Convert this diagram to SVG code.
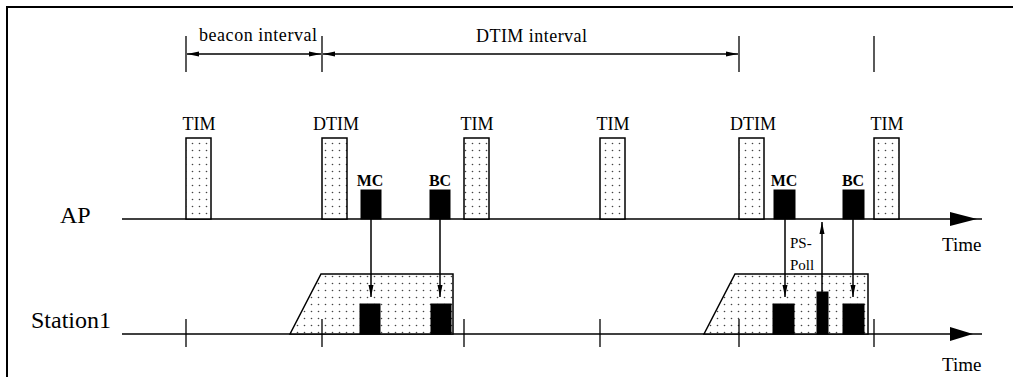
<svg xmlns="http://www.w3.org/2000/svg" width="1013" height="377" viewBox="0 0 1013 377" font-family="'Liberation Serif', 'Times New Roman', 'DejaVu Serif', serif">
<defs>
<pattern id="dots" width="7" height="7" patternUnits="userSpaceOnUse">
<rect width="7" height="7" fill="#fff"/>
<circle cx="3.5" cy="3.5" r="0.8" fill="#444"/>
</pattern>
<marker id="ah" viewBox="0 0 12 6" refX="12" refY="3" markerWidth="12" markerHeight="6" markerUnits="userSpaceOnUse" orient="auto-start-reverse">
<path d="M0,0.5 L12,3 L0,5.5 z" fill="#000"/>
</marker>
</defs>
<style>
.ln{stroke:#000;stroke-width:1.5;fill:none}
.tk{stroke:#000;stroke-width:1.3;fill:none}
.dot{fill:url(#dots);stroke:#000;stroke-width:1.5}
.blk{fill:#000;stroke:#000;stroke-width:1}
text{font-family:'Liberation Serif','Times New Roman','DejaVu Serif',serif;fill:#000}
.lbl{font-size:18px;text-anchor:middle}
.bold{font-size:16px;font-weight:bold;text-anchor:middle}
</style>
<rect width="1013" height="377" fill="#fff"/>
<path d="M7,377 L7,7 L1013,7" fill="none" stroke="#000" stroke-width="2"/>

<g id="intervals">
<line class="tk" x1="186" y1="36" x2="186" y2="72"/>
<line class="tk" x1="322" y1="36" x2="322" y2="72"/>
<line class="tk" x1="739" y1="36" x2="739" y2="72"/>
<line class="tk" x1="874" y1="36" x2="874" y2="72"/>
<line class="ln" x1="187" y1="54" x2="321" y2="54" marker-start="url(#ah)" marker-end="url(#ah)"/>
<line class="ln" x1="323" y1="54" x2="738" y2="54" marker-start="url(#ah)" marker-end="url(#ah)"/>
<text x="199" y="41" font-size="18" textLength="118">beacon interval</text>
<text x="476" y="42" font-size="18" textLength="111">DTIM interval</text>
</g>

<g id="ap-axis">
<line class="ln" x1="122" y1="219" x2="982" y2="219"/>
<path d="M950,212 L977,219 L950,226 z" fill="#000"/>
<text x="60" y="223" font-size="24">AP</text>
<text x="942" y="251" font-size="19">Time</text>
</g>

<g id="station-axis">
<line class="ln" x1="122" y1="334" x2="982" y2="334"/>
<path d="M950,327 L973,334 L950,341 z" fill="#000"/>
<text x="31" y="328" font-size="24">Station1</text>
<text x="942" y="371" font-size="19">Time</text>
</g>

<g id="awake1"><polygon class="dot" points="290,334 321,274 453,274 453,334"/></g>
<g id="awake2"><polygon class="dot" points="704,334 735,274 868,274 868,334"/></g>

<g id="ticks">
<line class="tk" x1="186" y1="319" x2="186" y2="347"/>
<line class="tk" x1="322" y1="319" x2="322" y2="347"/>
<line class="tk" x1="464" y1="319" x2="464" y2="347"/>
<line class="tk" x1="600" y1="319" x2="600" y2="347"/>
<line class="tk" x1="739" y1="319" x2="739" y2="347"/>
<line class="tk" x1="874" y1="319" x2="874" y2="347"/>
</g>

<g id="tim1"><rect class="dot" x="186" y="138" width="25" height="81"/><text class="lbl" x="199" y="130">TIM</text></g>
<g id="dtim1"><rect class="dot" x="322" y="138" width="25" height="81"/><text class="lbl" x="336" y="130">DTIM</text></g>
<g id="tim2"><rect class="dot" x="464" y="138" width="25" height="81"/><text class="lbl" x="477" y="130">TIM</text></g>
<g id="tim3"><rect class="dot" x="600" y="138" width="25" height="81"/><text class="lbl" x="613" y="130">TIM</text></g>
<g id="dtim2"><rect class="dot" x="739" y="138" width="25" height="81"/><text class="lbl" x="753" y="130">DTIM</text></g>
<g id="tim4"><rect class="dot" x="874" y="138" width="25" height="81"/><text class="lbl" x="887" y="130">TIM</text></g>

<g id="ap-mc1"><rect class="blk" x="361" y="190" width="20" height="29"/><text class="bold" x="370" y="186">MC</text></g>
<g id="ap-bc1"><rect class="blk" x="430" y="190" width="20" height="29"/><text class="bold" x="440" y="186">BC</text></g>
<g id="ap-mc2"><rect class="blk" x="774" y="190" width="21" height="29"/><text class="bold" x="784" y="186">MC</text></g>
<g id="ap-bc2"><rect class="blk" x="843" y="190" width="21" height="29"/><text class="bold" x="853" y="186">BC</text></g>

<g id="st-mc1"><rect class="blk" x="360" y="304" width="20" height="30"/></g>
<g id="st-bc1"><rect class="blk" x="431" y="304" width="20" height="30"/></g>
<g id="st-mc2"><rect class="blk" x="773" y="304" width="21" height="30"/></g>
<g id="st-pspoll"><rect class="blk" x="817" y="292" width="11" height="42"/>
<text x="790" y="248" font-size="15">PS-</text>
<text x="790" y="270" font-size="15">Poll</text></g>
<g id="st-bc2"><rect class="blk" x="843" y="304" width="21" height="30"/></g>

<g id="connectors">
<line class="ln" x1="371" y1="219" x2="371" y2="297" marker-end="url(#ah)"/>
<line class="ln" x1="440" y1="219" x2="440" y2="297" marker-end="url(#ah)"/>
<line class="ln" x1="785" y1="219" x2="785" y2="297" marker-end="url(#ah)"/>
<line class="ln" x1="853" y1="219" x2="853" y2="297" marker-end="url(#ah)"/>
<line class="ln" x1="822" y1="292" x2="822" y2="222" marker-end="url(#ah)"/>
</g>
</svg>
